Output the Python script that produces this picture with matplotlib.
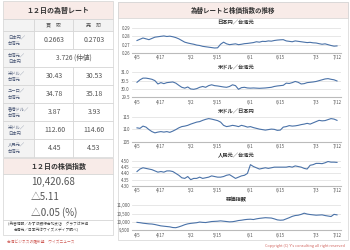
import matplotlib
matplotlib.use('Agg')
import matplotlib.pyplot as plt
from matplotlib.patches import Rectangle

plt.rcParams['font.family'] = ['Noto Sans CJK JP', 'DejaVu Sans']

# ---- data ----
rate_labels = ['日本円／\n台湾元', '台湾元／\n日本円', '米ドル／\n台湾元', 'ユーロ／\n台湾元',
               '香港ドル／\n台湾元', '米ドル／\n日本円', '人民元／\n台湾元']
buy_vals = ['0.2663', '3.726 (仲値)', '30.43', '34.78', '3.87', '112.60', '4.45']
sell_vals = ['0.2703', None, '30.53', '35.18', '3.93', '114.60', '4.53']
stock_lines = ['10,420.68', '△5.11', '△0.05 (%)']

date_ticks = [0, 8, 18, 27, 38, 48, 60, 67]
date_labels = ['4/5', '4/17', '5/2', '5/15', '6/1', '6/15', '7/3', '7/12']

jpy_twd = [0.2750, 0.2765, 0.2780, 0.2770, 0.2760, 0.2775, 0.2790, 0.2795, 0.2800,
           0.2805, 0.2798, 0.2802, 0.2795, 0.2785, 0.2770, 0.2750, 0.2730, 0.2720, 0.2712,
           0.2705, 0.2695, 0.2690, 0.2680, 0.2675, 0.2670, 0.2665, 0.2660, 0.2662,
           0.2705, 0.2730, 0.2710, 0.2700, 0.2705, 0.2710, 0.2700, 0.2705, 0.2712, 0.2715, 0.2720,
           0.2725, 0.2735, 0.2730, 0.2740, 0.2738, 0.2745, 0.2742, 0.2750, 0.2755, 0.2758,
           0.2760, 0.2745, 0.2740, 0.2735, 0.2745, 0.2740, 0.2735, 0.2730, 0.2725, 0.2728, 0.2722, 0.2720,
           0.2712, 0.2705, 0.2710, 0.2700, 0.2690, 0.2682, 0.2685]
usd_twd = [30.40, 30.55, 30.65, 30.65, 30.62, 30.58, 30.50, 30.30, 30.38,
           30.32, 30.38, 30.40, 30.42, 30.35, 30.22, 30.10, 30.05, 30.12, 30.00,
           29.98, 30.02, 30.10, 30.15, 30.10, 30.20, 30.25, 30.20, 30.18,
           30.15, 30.12, 30.10, 30.15, 30.25, 30.20, 29.98, 30.08, 30.10, 30.06, 30.05,
           30.06, 30.05, 30.04, 30.05, 30.06, 30.08, 30.10, 30.15, 30.18, 30.20,
           30.22, 30.35, 30.33, 30.38, 30.45, 30.40, 30.30, 30.32, 30.38, 30.40, 30.42, 30.45,
           30.50, 30.55, 30.60, 30.62, 30.58, 30.55, 30.48]
usd_jpy = [110.5, 110.3, 111.2, 110.8, 109.8, 109.0, 108.5, 108.8, 109.0,
           108.8, 109.0, 108.7, 109.2, 109.8, 110.5, 111.0, 111.2, 111.5, 112.0,
           112.4, 112.8, 113.0, 113.5, 113.9, 114.2, 114.0, 113.7, 113.4,
           112.8, 111.5, 111.0, 111.2, 111.5, 111.3, 111.0, 111.5, 111.2, 110.8, 111.0,
           110.6, 110.3, 110.0, 109.8, 109.6, 109.8, 110.0, 109.9, 109.5, 109.6,
           110.8, 111.0, 111.4, 111.2, 111.3, 111.5, 111.8, 112.0, 112.3, 112.0, 112.5, 113.0,
           113.5, 113.3, 113.4, 113.8, 114.2, 114.0, 113.5]
cny_twd = [4.415, 4.435, 4.445, 4.440, 4.435, 4.430, 4.420, 4.410, 4.415,
           4.410, 4.420, 4.420, 4.415, 4.400, 4.385, 4.365, 4.360, 4.375, 4.350,
           4.360, 4.360, 4.370, 4.360, 4.365, 4.370, 4.380, 4.375, 4.370,
           4.370, 4.375, 4.385, 4.390, 4.375, 4.360, 4.370, 4.380, 4.385, 4.400, 4.470,
           4.455, 4.445, 4.435, 4.440, 4.445, 4.440, 4.445, 4.450, 4.450, 4.450,
           4.450, 4.450, 4.455, 4.450, 4.460, 4.455, 4.450, 4.440, 4.435, 4.465, 4.470, 4.480,
           4.480, 4.478, 4.485, 4.495, 4.490, 4.490, 4.488]
stock_idx = [9970, 9950, 9920, 9900, 9880, 9870, 9840, 9800, 9760,
             9740, 9720, 9700, 9660, 9650, 9700, 9760, 9830, 9880, 9910,
             9930, 9950, 9990, 9970, 9960, 9990, 10020, 10030, 10040,
             10060, 10040, 10020, 10000, 10010, 10040, 10080, 10100, 10130, 10150, 10160,
             10140, 10180, 10210, 10230, 10250, 10240, 10230, 10180, 10120, 10100,
             10110, 10180, 10250, 10330, 10380, 10400, 10450, 10520, 10470, 10440, 10420, 10400,
             10410, 10420, 10380, 10350, 10320, 10450, 10420]

panels = [
    ('日本円／台湾元', jpy_twd, [0.26, 0.27, 0.28, 0.29], ['0.26', '0.27', '0.28', '0.29']),
    ('米ドル／台湾元', usd_twd, [29.5, 30.0, 30.5, 31.0], ['29.5', '30.0', '30.5', '31.0']),
    ('米ドル／日本円', usd_jpy, [105, 110, 115], ['105', '110', '115']),
    ('人民元／台湾元', cny_twd, [4.30, 4.35, 4.40, 4.45, 4.50], ['4.30', '4.35', '4.40', '4.45', '4.50']),
    ('株価指数', stock_idx, [9500, 10000, 10500, 11000], ['9,500', '10,000', '10,500', '11,000']),
]

W, H = 350, 250
PINK = '#f8ebe8'
GREYBG = '#f3f3f3'
BORDER = '#d3d3d3'
LINE = '#4a72a8'
TXT = '#555555'
LAB = '#4d5a78'

fig = plt.figure(figsize=(3.5, 2.5), dpi=100)
bg = fig.add_axes([0, 0, 1, 1])
bg.set_xlim(0, W)
bg.set_ylim(H, 0)
bg.axis('off')


def box(x0, y0, x1, y1, fc='white', ec=BORDER, lw=0.5):
    bg.add_patch(Rectangle((x0, y0), x1 - x0, y1 - y0, facecolor=fc, edgecolor=ec, lw=lw))


# ---- left: rate table ----
L, C1, C2, R = 3, 34, 73, 113
box(L, 1, R, 19, fc=PINK)
bg.text((L + R) / 2, 10.5, '１２日の為替レート', ha='center', va='center',
        fontsize=5, fontweight='bold', color='#333333')
box(L, 19, C1, 31, fc=GREYBG)
box(C1, 19, C2, 31, fc=GREYBG)
box(C2, 19, R, 31, fc=GREYBG)
bg.text((C1 + C2) / 2, 25, '買　取', ha='center', va='center', fontsize=3.6, color=TXT)
bg.text((C2 + R) / 2, 25, '売　却', ha='center', va='center', fontsize=3.6, color=TXT)

row_h = 18
for i, (lab, bv, sv) in enumerate(zip(rate_labels, buy_vals, sell_vals)):
    y0 = 31 + i * row_h
    y1 = y0 + row_h
    ym = (y0 + y1) / 2
    box(L, y0, C1, y1, fc=GREYBG)
    bg.text(L + 5, ym, lab, ha='left', va='center', fontsize=3.1, color=LAB, linespacing=1.3)
    if sv is None:
        box(C1, y0, R, y1)
        bg.text((C1 + R) / 2, ym, bv, ha='center', va='center', fontsize=4.8, color=TXT)
    else:
        box(C1, y0, C2, y1)
        box(C2, y0, R, y1)
        bg.text((C1 + C2) / 2 + 1, ym, bv, ha='center', va='center', fontsize=5, color=TXT)
        bg.text((C2 + R) / 2 + 1, ym, sv, ha='center', va='center', fontsize=5, color=TXT)

# ---- left: stock index ----
box(L, 158, R, 174, fc=PINK)
bg.text((L + R) / 2, 166, '１２日の株価指数', ha='center', va='center',
        fontsize=5, fontweight='bold', color='#333333')
box(L, 174, R, 220)
for j, s in enumerate(stock_lines):
    bg.text(31, 181.5 + j * 15.5, s, ha='left', va='center', fontsize=7, color=TXT)
box(L, 220, R, 235)
bg.text(8, 224, '(為替情報／みずほ銀行台北支店　グラフは仲値', ha='left', va='center',
        fontsize=2.7, color='#444444')
bg.text(14, 230.5, '台湾元／日本円はワイズメディア調べ)', ha='left', va='center',
        fontsize=2.7, color='#444444')
bg.text(7, 242, '台湾ビジネスの羅針盤　ワイズニュース', ha='left', va='center',
        fontsize=2.7, color='#d0605a')

# ---- right panel frame ----
box(118, 2, 348, 240)
box(118, 2, 348, 18, fc=PINK)
bg.text(233, 10.5, '為替レートと株価指数の推移', ha='center', va='center',
        fontsize=4.7, fontweight='bold', color='#333333')
bg.text(345, 245.5, "Copyright (C) Y's consulting all right reserved", ha='right', va='center',
        fontsize=2.7, color='#d0605a')

AX_L, AX_R = 132, 341
n = len(jpy_twd)
x = list(range(n))
px_per = (337 - 137) / (n - 1)
xlo = -(137 - AX_L) / px_per
xhi = (n - 1) + (AX_R - 337) / px_per

for k, (title, vals, ticks, tlabels) in enumerate(panels):
    top = 28 + k * 44.3
    bot = top + 25
    ax = fig.add_axes([AX_L / W, 1 - bot / H, (AX_R - AX_L) / W, (bot - top) / H])
    ax.plot(x, vals, color=LINE, lw=0.8)
    ax.set_xlim(xlo, xhi)
    ax.set_ylim(ticks[0], ticks[-1])
    ax.set_yticks(ticks)
    ax.set_yticklabels(tlabels)
    ax.set_xticks(date_ticks)
    ax.set_xticklabels(date_labels)
    ax.tick_params(axis='both', length=0, labelsize=3.2, colors='#555555')
    ax.tick_params(axis='y', pad=1.5)
    ax.tick_params(axis='x', pad=1.8)
    ax.grid(axis='y', color='#dddddd', lw=0.5)
    ax.set_axisbelow(True)
    for sp in ['top', 'right', 'left']:
        ax.spines[sp].set_visible(False)
    ax.spines['bottom'].set_color('#bbbbbb')
    ax.spines['bottom'].set_linewidth(0.8)
    ax.set_facecolor('none')
    bg.text(236, top - 5, title, ha='center', va='center', fontsize=3.8,
            fontweight='bold', color='#333333')

fig.savefig('out.png', dpi=100)
